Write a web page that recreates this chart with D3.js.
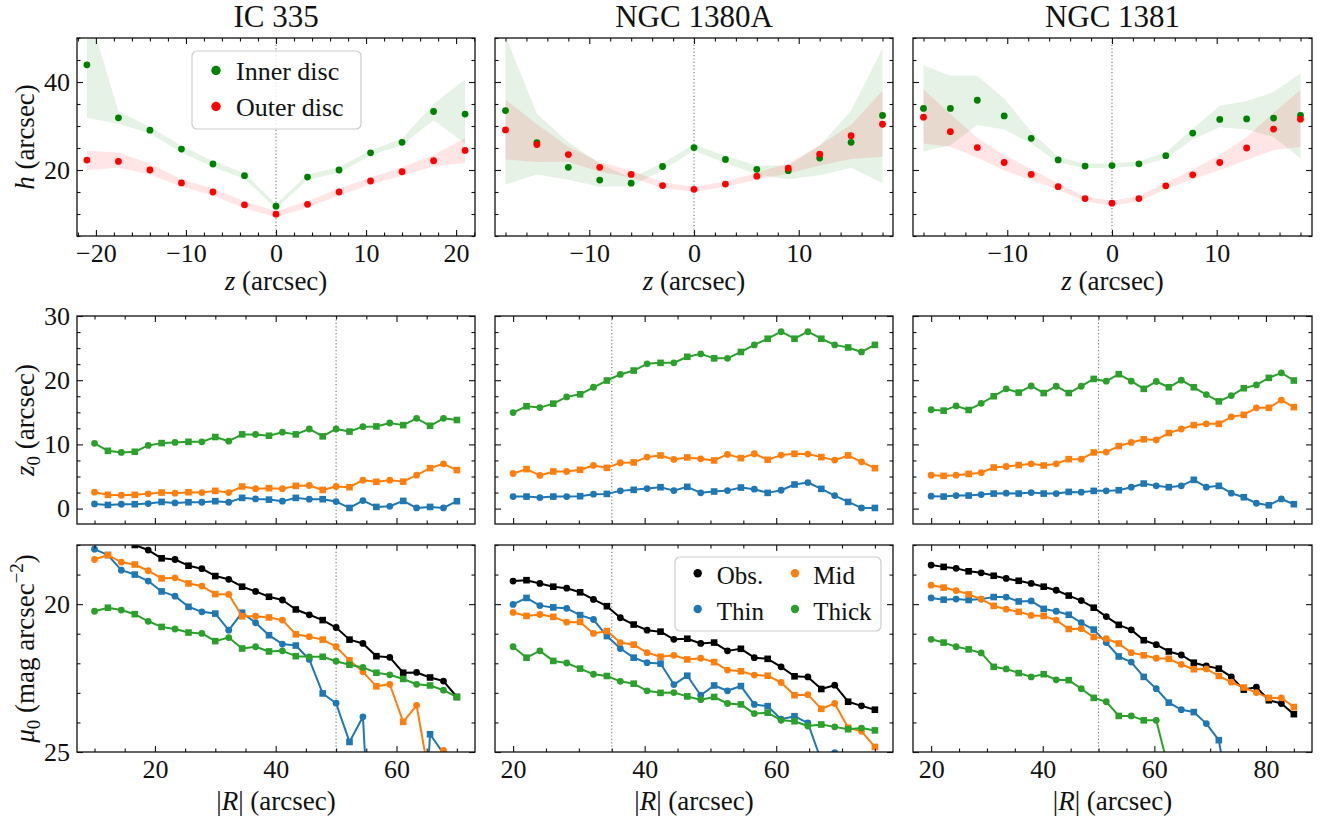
<!DOCTYPE html>
<html><head><meta charset="utf-8">
<script src="https://cdn.jsdelivr.net/npm/d3@7"></script>
<style>
body{margin:0;background:#fff;}
svg, svg text{font-family:"Liberation Serif","LiberationSerif","Tinos","Times","Nimbus Roman","Nimbus Roman No9 L","FreeSerif","DejaVu Serif","Noto Serif","Noto Serif CJK SC","Source Han Serif SC",serif;}
</style></head><body>
<svg id="fig" width="1327" height="816"></svg>
<script>
// ---------------- DATA ----------------
const galaxies = ["IC 335", "NGC 1380A", "NGC 1381"];

// Top row: scale height h vs z
const zIC335 = [-21,-17.5,-14,-10.5,-7,-3.5,0,3.5,7,10.5,14,17.5,21];
const hInIC335   = [43.9,31.85,29.06,24.75,21.36,18.7,11.77,18.4,20.0,23.9,26.3,33.3,32.7];
const hInLoIC335 = [31.9,30.5,28.3,24.0,20.7,18.0,11.2,17.8,19.4,23.3,25.6,31.3,26.0];
const hInHiIC335 = [57,33.4,29.8,25.5,22.0,19.3,12.3,19.0,20.6,24.5,27.1,35.0,40.6];
const hOutIC335   = [22.26,21.96,20.0,17.06,15.0,12.08,9.96,12.2,15.0,17.5,19.6,22.1,24.45];
const hOutLoIC335 = [20.0,20.5,19.0,16.2,14.2,11.3,9.3,11.5,14.2,16.7,18.7,20.8,21.6];
const hOutHiIC335 = [24.4,24.0,21.4,17.9,15.8,12.9,10.6,12.9,15.8,18.3,20.6,23.4,27.3];

const z1380 = [-18,-15,-12,-9,-6,-3,0,3,6,9,12,15,18];
const hIn1380   = [33.5,26.2,20.6,17.7,17.0,20.8,25.1,22.4,20.15,19.85,22.7,26.3,32.4];
const hInLo1380 = [16.7,19.0,17.8,16.2,16.3,20.0,24.4,21.6,19.0,17.9,18.8,20.5,17.0];
const hInHi1380 = [50.5,32.8,26.3,21.5,18.2,21.6,25.8,23.2,21.0,21.0,25.5,33.5,47.6];
const hOut1380   = [29.1,25.8,23.5,20.6,19.0,16.45,15.6,16.8,18.6,20.4,23.6,27.8,30.4];
const hOutLo1380 = [22.4,21.8,21.9,19.6,18.3,15.9,15.0,16.2,17.8,19.2,21.0,22.5,23.0];
const hOutHi1380 = [36.0,30.4,25.3,21.8,19.9,17.2,16.2,17.4,19.4,21.5,25.6,30.3,38.0];

const z1381 = [-18,-15.43,-12.86,-10.29,-7.71,-5.14,-2.57,0,2.57,5.14,7.71,10.29,12.86,15.43,18];
const hIn1381   = [34.0,34.0,35.85,32.3,27.2,22.3,20.9,21.0,21.4,23.25,28.4,31.5,31.6,31.8,32.4];
const hInLo1381 = [24.2,25.6,30.2,29.2,26.0,21.7,20.4,20.5,20.9,22.6,27.0,29.7,29.2,27.5,22.6];
const hInHi1381 = [43.8,41.4,41.4,36.2,28.7,23.0,21.4,21.5,22.0,24.0,29.4,34.6,35.7,37.7,42.0];
const hOut1381   = [32.0,28.7,25.1,21.7,19.0,16.2,13.5,12.45,13.5,16.4,18.9,21.7,25.0,29.3,31.55];
const hOutLo1381 = [26.0,25.3,22.8,19.9,17.7,15.5,12.9,11.9,12.9,15.6,17.9,20.0,22.3,24.5,25.3];
const hOutHi1381 = [38.3,32.7,27.3,23.4,20.2,17.0,14.0,13.0,14.1,17.1,20.1,23.4,27.5,33.0,38.2];

// Middle/bottom rows: radius |R|
const R_IC335 = [10,12.22,14.44,16.67,18.89,21.11,23.33,25.56,27.78,30,32.22,34.44,36.67,38.89,41.11,43.33,45.56,47.78,50,52.22,54.44,56.67,58.89,61.11,63.33,65.56,67.78,70];
const R_1380 = [20,22.04,24.07,26.11,28.15,30.19,32.22,34.26,36.30,38.33,40.37,42.41,44.44,46.48,48.52,50.56,52.59,54.63,56.67,58.70,60.74,62.78,64.81,66.85,68.89,70.93,72.96,75];
const R_1381 = [20,22.24,24.48,26.72,28.97,31.21,33.45,35.69,37.93,40.17,42.41,44.66,46.90,49.14,51.38,53.62,55.86,58.10,60.34,62.59,64.83,67.07,69.31,71.55,73.79,76.03,78.28,80.52,82.76,85];

// z0 scale heights
const z0ThinIC335  = [0.73,0.57,0.68,0.68,0.78,1.04,0.89,0.99,0.99,1.15,0.99,1.67,1.51,1.4,1.15,1.67,1.46,1.46,1.1,0.1,1.25,0.26,0.36,1.2,0.1,0.26,0.1,1.15];
const z0MidIC335   = [2.55,2.14,2.08,2.14,2.3,2.5,2.4,2.55,2.5,2.76,2.5,3.44,3.1,3.18,3.1,3.54,3.6,2.9,3.44,3.33,4.43,4.17,4.43,4.2,5.2,6.3,6.98,6.0];
const z0ThickIC335 = [10.16,9.0,8.75,8.85,9.84,10.2,10.3,10.4,10.4,11.15,10.5,11.56,11.56,11.35,11.9,11.56,12.4,11.25,12.4,12.0,12.76,12.8,13.33,13.0,14.06,12.9,14.06,13.8];

const z0Thin1380  = [1.875,1.875,1.72,1.875,1.875,1.93,2.24,2.29,2.76,2.92,3.12,3.33,2.8,3.39,2.45,2.66,2.8,3.28,3.02,2.45,2.86,3.75,4.06,3.07,2.03,1.04,0.1,0.1];
const z0Mid1380   = [5.47,6.15,5.16,5.78,5.78,6.04,6.72,6.35,7.14,7.19,8.02,8.28,7.66,7.97,7.76,7.5,8.44,7.86,8.54,7.6,8.33,8.54,8.49,8.02,7.55,8.28,7.29,6.3];
const z0Thick1380 = [14.95,15.94,15.73,16.35,17.4,17.8,18.9,19.95,20.9,21.5,22.55,22.7,22.7,23.65,24.1,23.4,23.4,24.4,25.5,26.46,27.55,26.46,27.55,26.46,25.5,25.1,24.4,25.5];

const z0Thin1381  = [1.93,1.875,2.03,2.03,2.19,2.34,2.4,2.34,2.5,2.34,2.34,2.6,2.55,2.76,2.76,2.86,3.33,3.9,3.54,3.33,3.54,4.48,3.33,3.54,2.4,1.77,0.83,0.52,1.5,0.68];
const z0Mid1381   = [5.2,5.1,5.2,5.4,5.6,6.4,6.56,6.77,6.98,6.72,6.98,7.7,7.7,8.75,8.8,9.74,10.3,10.8,10.7,11.77,12.4,13.0,13.2,13.2,14.3,14.6,15.7,15.7,16.9,15.8];
const z0Thick1381 = [15.4,15.26,16.0,15.36,16.4,17.5,18.65,18.07,19.1,18.0,19.06,18.0,19.06,20.2,19.84,20.94,19.84,18.65,19.8,18.9,20.0,18.9,17.76,16.7,17.6,18.75,19.27,20.36,21.15,19.95];

// mu0 central surface brightness
const muObsIC335   = [17.6,17.7,17.8,18.0,18.17,18.45,18.49,18.7,18.8,19.05,19.16,19.41,19.57,19.75,19.86,20.18,20.36,20.54,20.79,21.2,21.33,21.76,21.8,22.32,22.31,22.48,22.6,23.14];
const muThinIC335  = [18.14,18.34,18.85,19.0,19.22,19.57,19.73,20.09,20.26,20.32,20.88,20.29,20.63,21.05,21.35,21.4,21.87,23.02,23.35,24.66,23.81,32,31,31,32,24.4,25.05,27];
const muMidIC335   = [18.49,18.34,18.58,18.66,18.87,19.13,19.11,19.3,19.39,19.66,19.67,20.41,20.41,20.45,20.54,21.02,21.1,21.2,21.44,21.9,22.29,22.78,22.71,23.98,23.42,26.0,24.95,26.5];
const muThickIC335 = [20.24,20.12,20.2,20.34,20.58,20.77,20.84,20.96,20.99,21.25,21.13,21.5,21.44,21.6,21.58,21.76,21.78,21.78,21.93,22.05,22.14,22.32,22.39,22.53,22.71,22.75,22.91,23.14];

const muObs1380   = [19.22,19.19,19.3,19.41,19.46,19.6,19.84,20.07,20.46,20.69,20.88,20.93,21.19,21.17,21.33,21.3,21.58,21.51,21.81,21.85,22.12,22.44,22.46,22.87,22.74,23.3,23.44,23.57];
const muThin1380  = [20.01,19.79,20.05,20.11,20.14,20.37,20.52,21.08,21.5,21.81,21.98,22.01,22.72,22.42,23.08,22.75,22.93,22.77,23.39,23.45,23.89,23.79,24.02,25.3,25.02,26.5,27,27];
const muMid1380   = [20.28,20.4,20.35,20.43,20.61,20.6,20.99,20.91,21.3,21.37,21.64,21.78,21.73,21.87,21.83,21.96,22.23,22.27,22.4,22.42,22.65,23.08,23.06,23.54,23.36,24.18,24.3,24.83];
const muThick1380 = [21.44,21.81,21.58,21.92,21.99,22.18,22.37,22.43,22.61,22.69,22.93,23.0,22.99,23.12,23.23,23.14,23.36,23.39,23.7,23.67,23.93,23.96,24.12,24.07,24.15,24.23,24.19,24.27];

const muObs1381   = [18.68,18.74,18.79,18.89,18.94,19.04,19.13,19.21,19.3,19.41,19.53,19.71,19.88,20.12,20.42,20.7,20.87,21.22,21.37,21.6,21.72,21.98,22.09,22.18,22.46,22.89,22.81,23.25,23.36,23.72];
const muThin1381  = [19.79,19.85,19.83,19.86,19.83,19.76,19.76,19.91,19.89,20.16,20.24,20.36,20.63,20.86,21.3,21.77,21.96,22.46,22.86,23.33,23.57,23.65,24.04,24.6,27,28,28,28,28,28];
const muMid1381   = [19.36,19.44,19.54,19.67,19.83,20.06,20.17,20.26,20.38,20.4,20.54,20.84,20.83,21.11,21.17,21.33,21.64,21.73,21.83,21.85,22.04,22.2,22.19,22.43,22.64,22.82,22.99,23.17,23.17,23.48];
const muThick1381 = [21.19,21.3,21.44,21.53,21.65,22.12,22.19,22.33,22.46,22.37,22.56,22.57,22.86,23.17,23.3,23.78,23.78,23.93,23.93,25.6,27,28,28,28,28,28,28,28,28,28];

// dividing radius marked by dotted line
const rBreak = [50, 35, 50];

// tick labels
const zMajorIC335 = [-20,-10,0,10,20];
const zMajorNGC = [-10,0,10];
const hMajor = [20,40];
const z0Major = [0,10,20,30];
const muMajor = [20,25];
const rMajorA = [20,40,60];
const rMajorB = [20,40,60,80];

const legendTop = ["Inner disc","Outer disc"];
const legendBottom = ["Obs.","Thin","Mid","Thick"];

// ---------------- STYLE / LAYOUT ----------------
const FONT = "'Liberation Serif','LiberationSerif','Tinos','Times','Nimbus Roman','Nimbus Roman No9 L','FreeSerif','DejaVu Serif','Noto Serif','Noto Serif CJK SC',serif";
const C = {inner:"#008000", outer:"#ff0000", obs:"#000000", thin:"#1f77b4", mid:"#ff7f0e", thick:"#2ca02c"};
const colX = [[77,475],[495,893],[913,1312]];
const rowY = [[38,236],[316,524],[545,752]];
const FS_TICK = 26, FS_LAB = 27, FS_TITLE = 31;
const fmt = d => d < 0 ? "\u2212" + Math.abs(d) : String(d);
function steps(a, b, s, exclude){ const r=[]; for(let k=Math.ceil(a/s-1e-9); k*s<=b+1e-9; k++){ const v=+(k*s).toFixed(6); if(!exclude.includes(v)) r.push(v);} return r; }

const svg = d3.select("#fig").attr("font-family", FONT);
svg.append("rect").attr("width",1327).attr("height",816).attr("fill","#fff");
const defs = svg.append("defs");

function makePanel(ci, ri){
  const [x0,x1] = colX[ci], [y0,y1] = rowY[ri];
  const id = `clip${ri}${ci}`;
  defs.append("clipPath").attr("id",id).append("rect").attr("x",x0).attr("y",y0).attr("width",x1-x0).attr("height",y1-y0);
  const g = svg.append("g");
  const data = g.append("g").attr("clip-path",`url(#${id})`);
  return {g, data, x0, x1, y0, y1};
}

function axes(p, xs, ys, xMaj, xMin, yMaj, yMin, showX, showY){
  const MAJ=6, MIN=3.5;
  const clean = s => { s.select(".domain").remove(); s.attr("font-family",FONT).attr("font-size",FS_TICK).attr("color","#111"); s.selectAll("line").attr("stroke-width",1.1); };
  const none = () => "";
  p.g.append("g").attr("transform",`translate(0,${p.y1})`).call(d3.axisBottom(xs).tickValues(xMaj).tickSize(-MAJ).tickPadding(8).tickFormat(showX?fmt:none)).call(clean);
  p.g.append("g").attr("transform",`translate(0,${p.y1})`).call(d3.axisBottom(xs).tickValues(xMin).tickSize(-MIN).tickFormat(none)).call(clean);
  p.g.append("g").attr("transform",`translate(0,${p.y0})`).call(d3.axisTop(xs).tickValues(xMaj).tickSize(-MAJ).tickFormat(none)).call(clean);
  p.g.append("g").attr("transform",`translate(0,${p.y0})`).call(d3.axisTop(xs).tickValues(xMin).tickSize(-MIN).tickFormat(none)).call(clean);
  p.g.append("g").attr("transform",`translate(${p.x0},0)`).call(d3.axisLeft(ys).tickValues(yMaj).tickSize(-MAJ).tickPadding(7).tickFormat(showY?fmt:none)).call(clean);
  p.g.append("g").attr("transform",`translate(${p.x0},0)`).call(d3.axisLeft(ys).tickValues(yMin).tickSize(-MIN).tickFormat(none)).call(clean);
  p.g.append("g").attr("transform",`translate(${p.x1},0)`).call(d3.axisRight(ys).tickValues(yMaj).tickSize(-MAJ).tickFormat(none)).call(clean);
  p.g.append("g").attr("transform",`translate(${p.x1},0)`).call(d3.axisRight(ys).tickValues(yMin).tickSize(-MIN).tickFormat(none)).call(clean);
  p.g.append("rect").attr("x",p.x0).attr("y",p.y0).attr("width",p.x1-p.x0).attr("height",p.y1-p.y0)
    .attr("fill","none").attr("stroke","#111").attr("stroke-width",1.3);
}

function vline(p, xs, v){
  p.data.append("line").attr("x1",xs(v)).attr("x2",xs(v)).attr("y1",p.y0).attr("y2",p.y1)
    .attr("stroke","#777").attr("stroke-width",1.1).attr("stroke-dasharray","1.2,2.2");
}

function richText(parent, parts, fs){
  let shift = 0;
  parts.forEach(([t,k]) => {
    const ts = parent.append("tspan").text(t);
    let target = 0;
    if (k === "i") ts.attr("font-style","italic");
    if (k === "sub") { ts.attr("font-size", fs*0.7); target = 6; }
    if (k === "sup") { ts.attr("font-size", fs*0.7); target = -11; }
    if (target !== shift) { ts.attr("dy", target - shift); shift = target; }
  });
}

function xLabel(p, y, parts){
  const t = p.g.append("text").attr("x",(p.x0+p.x1)/2).attr("y",y).attr("text-anchor","middle").attr("font-size",FS_LAB).attr("font-family",FONT).attr("fill","#111");
  richText(t, parts, FS_LAB);
}
function yLabel(p, x, parts){
  const yc = (p.y0+p.y1)/2;
  const t = svg.append("text").attr("transform",`translate(${x},${yc}) rotate(-90)`).attr("text-anchor","middle").attr("font-size",FS_LAB).attr("font-family",FONT).attr("fill","#111");
  richText(t, parts, FS_LAB);
}

function drawMarkers(sel, xs, ys, xv, yv, color, r, sq){
  xv.forEach((x,i) => {
    if (sq && i % 2 === 1) {
      sel.append("rect").attr("x",xs(x)-sq/2).attr("y",ys(yv[i])-sq/2).attr("width",sq).attr("height",sq).attr("fill",color);
    } else {
      sel.append("circle").attr("cx",xs(x)).attr("cy",ys(yv[i])).attr("r",r).attr("fill",color);
    }
  });
}

// ---------------- TOP ROW ----------------
const topSets = [
  {z:zIC335, inn:hInIC335, innLo:hInLoIC335, innHi:hInHiIC335, out:hOutIC335, outLo:hOutLoIC335, outHi:hOutHiIC335, dom:[-22.1,22.1], maj:zMajorIC335},
  {z:z1380, inn:hIn1380, innLo:hInLo1380, innHi:hInHi1380, out:hOut1380, outLo:hOutLo1380, outHi:hOutHi1380, dom:[-19,19], maj:zMajorNGC},
  {z:z1381, inn:hIn1381, innLo:hInLo1381, innHi:hInHi1381, out:hOut1381, outLo:hOutLo1381, outHi:hOutHi1381, dom:[-19,19.1], maj:zMajorNGC}
];
topSets.forEach((s, ci) => {
  const p = makePanel(ci, 0);
  const xs = d3.scaleLinear().domain(s.dom).range([p.x0,p.x1]);
  const ys = d3.scaleLinear().domain([5,50]).range([p.y1,p.y0]);
  const area = (lo,hi) => d3.area().x((d,i)=>xs(s.z[i])).y0((d,i)=>ys(lo[i])).y1((d,i)=>ys(hi[i]))(s.z);
  p.data.append("path").attr("d",area(s.innLo,s.innHi)).attr("fill",C.inner).attr("fill-opacity",0.1);
  p.data.append("path").attr("d",area(s.outLo,s.outHi)).attr("fill",C.outer).attr("fill-opacity",0.1);
  vline(p, xs, 0);
  drawMarkers(p.data, xs, ys, s.z, s.inn, C.inner, 3.4, 0);
  drawMarkers(p.data, xs, ys, s.z, s.out, C.outer, 3.4, 0);
  axes(p, xs, ys, s.maj, steps(s.dom[0], s.dom[1], 2, s.maj), hMajor, steps(5, 50, 5, hMajor), true, ci===0);
  svg.append("text").attr("x",(p.x0+p.x1)/2).attr("y",27).attr("text-anchor","middle").attr("font-size",FS_TITLE).attr("font-family",FONT).attr("fill","#111").text(galaxies[ci]);
  xLabel(p, 290, [["z","i"],[" (arcsec)",""]]);
  if (ci === 0) {
    yLabel(p, 34, [["h","i"],[" (arcsec)",""]]);
    const lg = p.g.append("g");
    lg.append("rect").attr("x",192).attr("y",51).attr("width",169).attr("height",78).attr("rx",5)
      .attr("fill","#fff").attr("fill-opacity",0.8).attr("stroke","#cccccc").attr("stroke-width",1.2);
    [[C.inner,70.5,80],[C.outer,106.5,116]].forEach(([c,cy,by],k) => {
      lg.append("circle").attr("cx",216).attr("cy",cy).attr("r",4.7).attr("fill",c);
      lg.append("text").attr("x",236).attr("y",by).attr("font-size",26).attr("font-family",FONT).attr("fill","#111").text(legendTop[k]);
    });
  }
});

// ---------------- MIDDLE & BOTTOM ROWS ----------------
const radSets = [
  {R:R_IC335, dom:[7.1,73], maj:rMajorA,
   z0:[z0ThinIC335,z0MidIC335,z0ThickIC335], mu:[muObsIC335,muThinIC335,muMidIC335,muThickIC335]},
  {R:R_1380, dom:[17.25,77.75], maj:rMajorA,
   z0:[z0Thin1380,z0Mid1380,z0Thick1380], mu:[muObs1380,muThin1380,muMid1380,muThick1380]},
  {R:R_1381, dom:[16.75,88.25], maj:rMajorB,
   z0:[z0Thin1381,z0Mid1381,z0Thick1381], mu:[muObs1381,muThin1381,muMid1381,muThick1381]}
];
function series(p, xs, ys, R, vals, color){
  const line = d3.line().x((d,i)=>xs(R[i])).y(d=>ys(d));
  p.data.append("path").attr("d",line(vals)).attr("fill","none").attr("stroke",color).attr("stroke-width",2).attr("stroke-linejoin","round");
  drawMarkers(p.data, xs, ys, R, vals, color, 3.4, 6.6);
}
radSets.forEach((s, ci) => {
  const pm = makePanel(ci, 1);
  const xm = d3.scaleLinear().domain(s.dom).range([pm.x0,pm.x1]);
  const ym = d3.scaleLinear().domain([-2.4,30]).range([pm.y1,pm.y0]);
  vline(pm, xm, rBreak[ci]);
  [C.thin,C.mid,C.thick].forEach((c,k) => series(pm, xm, ym, s.R, s.z0[k], c));
  axes(pm, xm, ym, s.maj, steps(s.dom[0], s.dom[1], 5, s.maj), z0Major, steps(-2.4, 30, 2.5, z0Major), false, ci===0);
  if (ci === 0) yLabel(pm, 34, [["z","i"],["0","sub"],[" (arcsec)",""]]);

  const pb = makePanel(ci, 2);
  const xb = d3.scaleLinear().domain(s.dom).range([pb.x0,pb.x1]);
  const yb = d3.scaleLinear().domain([18,25]).range([pb.y0,pb.y1]);
  vline(pb, xb, rBreak[ci]);
  [C.obs,C.thin,C.mid,C.thick].forEach((c,k) => series(pb, xb, yb, s.R, s.mu[k], c));
  axes(pb, xb, yb, s.maj, steps(s.dom[0], s.dom[1], 5, s.maj), muMajor, steps(18, 25, 1, muMajor), true, ci===0);
  xLabel(pb, 810, [["|",""],["R","i"],["| (arcsec)",""]]);
  if (ci === 0) yLabel(pb, 34, [["\u03bc","i"],["0","sub"],[" (mag arcsec",""],["\u22122","sup"],[")",""]]);
  if (ci === 1) {
    const lg = pb.g.append("g");
    lg.append("rect").attr("x",675).attr("y",557).attr("width",206).attr("height",74).attr("rx",5)
      .attr("fill","#fff").attr("fill-opacity",0.8).attr("stroke","#cccccc").attr("stroke-width",1.2);
    const pos = [[697.7,573.3,716.7,584],[697.7,609,716.7,620],[795,573.3,813.3,584],[795,609,813.3,620]];
    [C.obs,C.thin,C.mid,C.thick].forEach((c,k) => {
      const [mx,my,tx,ty] = pos[k];
      lg.append("circle").attr("cx",mx).attr("cy",my).attr("r",4.2).attr("fill",c);
      lg.append("text").attr("x",tx).attr("y",ty).attr("font-size",25).attr("font-family",FONT).attr("fill","#111").text(legendBottom[k]);
    });
  }
});
</script></body></html>
